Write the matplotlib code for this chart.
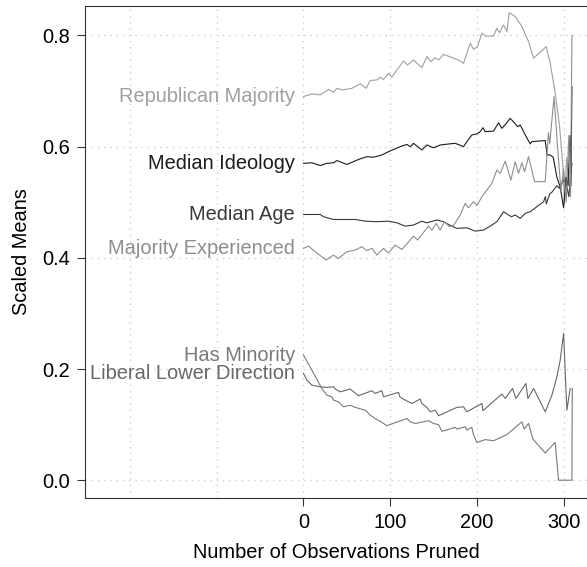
import matplotlib
matplotlib.use('Agg')
import matplotlib.pyplot as plt

plt.rcParams['font.family'] = ['Liberation Sans', 'DejaVu Sans']

# values (x = observations pruned, y = scaled mean)
rep_x = [0, 9.7, 19.3, 28.9, 34.7, 38.5, 44.3, 55.8, 65.4, 72.3, 77, 84.6, 88.5, 92.3, 98.1,
         101.9, 107.7, 115.4, 120, 126.9, 136.5, 142.3, 146.9, 151.9, 155.8, 161.5, 168.5,
         173.1, 178.5, 184.6, 192.3, 196.2, 200.8, 205.8, 209.6, 219.2, 223.1, 226.1, 230.8,
         234.6, 237.3, 244.2, 251.9, 259.6, 265.4, 280, 284.6, 290.4, 295.4, 299.2, 301,
         303.5, 306, 309]
rep_y = [.690, .695, .693, .703, .698, .705, .702, .705, .713, .705, .719, .720, .725, .721, .732,
         .725, .738, .754, .747, .756, .742, .762, .753, .760, .756, .766, .762,
         .759, .756, .750, .786, .775, .780, .804, .799, .799, .813, .805, .819,
         .807, .841, .834, .816, .789, .759, .780, .750, .696, .636, .564, .500,
         .580, .530, .560]

ideo_x = [0, 9.7, 19.3, 27, 34.7, 38.5, 50, 63.5, 73.1, 80.8, 90.4, 98.1, 111.5, 119.2, 123.1,
          126.9, 136.5, 142.3, 150, 157.7, 168.5, 175, 184.6, 188.5, 194.2, 200, 203.8, 206.9,
          209.6, 219.2, 225, 228.8, 233, 238.4, 242, 246.9, 250, 255.8, 261.5, 263.4, 278.8,
          281, 284.6, 288, 292.3, 296, 300, 303, 305, 307.6, 308.5, 309.6]
ideo_y = [.570, .571, .566, .570, .571, .575, .568, .577, .582, .581, .585, .591, .600, .604, .600,
          .606, .594, .603, .598, .603, .605, .606, .600, .609, .621, .623, .627, .634,
          .627, .628, .643, .633, .640, .651, .645, .636, .639, .621, .605, .609, .611,
          .585, .585, .581, .545, .528, .490, .545, .530, .620, .530, .708]

age_x = [0, 19.3, 23, 34.7, 46.2, 59.6, 71.2, 84.6, 98.1, 107.7, 117.3, 126.9, 136.5, 142,
         153.8, 161.5, 168.5, 176.9, 188.5, 198.1, 207.7, 215.4, 223.1, 230.8, 236.5, 240,
         244.2, 250, 255.8, 261.5, 269.2, 276.9, 279, 280, 284, 286.5, 292.3, 295, 300, 303,
         306, 309.6]
age_y = [.478, .478, .474, .469, .469, .469, .466, .465, .466, .463, .457, .459, .466, .463,
         .468, .465, .459, .453, .454, .448, .450, .457, .465, .483, .477, .474,
         .477, .471, .480, .483, .492, .501, .510, .497, .515, .518, .530, .525, .540, .535,
         .510, .570]

exper_x = [0, 5.8, 13.5, 26.2, 34.7, 40.4, 50, 59.6, 67.3, 73.1, 78.9, 84.6, 92.3, 98.1, 105.8,
           113.5, 126.9, 131.5, 144.2, 148.1, 153.1, 157.7, 162.3, 168.5, 173, 180.8, 186.5,
           190, 196.2, 200, 205.8, 211.5, 217.3, 223.1, 227, 232.7, 239.2, 244.2, 248, 251.9,
           255, 259.6, 266.5, 278.8, 282.5, 284, 289, 293, 297, 300, 303, 306, 308, 309.6]
exper_y = [.417, .421, .411, .396, .405, .399, .411, .414, .420, .413, .417, .405, .417, .409, .423,
           .415, .439, .432, .457, .450, .462, .450, .465, .456, .458, .477, .498,
           .490, .501, .494, .510, .522, .534, .558, .552, .574, .540, .573, .552, .571,
           .555, .582, .537, .537, .625, .605, .690, .600, .520, .560, .500, .620, .510, .800]

minor_x = [0, 9.7, 21.2, 27, 32.7, 34.7, 40.4, 46.2, 53.9, 59.6, 71.2, 77, 84.6, 88.5, 96.2,
           119.2, 123.1, 128.9, 144.2, 150, 155.8, 159.6, 175, 176.9, 186.5, 188.5, 194.2,
           196.1, 200, 209.6, 219.2, 234.6, 251.9, 254.6, 259.6, 264.6, 278.8, 290.3, 294.2,
           309.6, 310]
minor_y = [.225, .198, .165, .153, .150, .144, .141, .132, .135, .131, .126, .117, .109, .106, .098,
           .111, .105, .102, .107, .102, .100, .088, .095, .092, .096, .090, .095,
           .082, .068, .073, .071, .082, .105, .092, .102, .074, .049, .068, .000,
           .000, .165]

lib_x = [0, 3.9, 9.7, 19.3, 27, 34.7, 36.6, 42.3, 53.9, 63.5, 78.9, 82.7, 90.4, 92.3, 109.6,
         111.5, 121.2, 125, 134.6, 136.5, 142.3, 146.2, 151.9, 155.8, 176.9, 184.6, 188.5,
         205.8, 206.9, 228.8, 232.7, 241.1, 245, 256.5, 258.8, 265.4, 278.8, 286.5, 292.3,
         296.1, 300, 303.8, 307.6]
lib_y = [.192, .180, .171, .168, .167, .168, .164, .159, .164, .152, .161, .156, .161, .150, .158,
         .149, .141, .138, .146, .138, .131, .123, .126, .116, .131, .132, .123,
         .138, .125, .155, .147, .165, .147, .174, .147, .165, .123, .153, .186,
         .216, .264, .126, .165]

series = [
    ('Republican Majority', rep_x, rep_y, '#a0a0a0'),
    ('Median Ideology', ideo_x, ideo_y, '#1c1c1c'),
    ('Median Age', age_x, age_y, '#383838'),
    ('Majority Experienced', exper_x, exper_y, '#8e8e8e'),
    ('Has Minority', minor_x, minor_y, '#7a7a7a'),
    ('Liberal Lower Direction', lib_x, lib_y, '#686868'),
]

fig = plt.figure(figsize=(5.87, 5.67), dpi=100)
ax = fig.add_axes([0.1448, 0.1217, 0.8552, 0.8677])

for name, xs, ys, col in series:
    ax.plot(xs, ys, '-', color=col, lw=0.8)
    ax.text(-10, ys[0], name, color=col, fontsize=14.4, ha='right', va='center')

ax.set_xlim(-252, 327)
ax.set_ylim(-0.032, 0.853)
ax.set_xticks([0, 100, 200, 300])
ax.set_xticks([-200, -100], minor=True)
ax.set_yticks([0.0, 0.2, 0.4, 0.6, 0.8])
ax.set_yticklabels(['0.0', '0.2', '0.4', '0.6', '0.8'])
ax.tick_params(axis='both', which='major', direction='out', length=6, width=0.8,
               color='#333333', labelsize=14.4, pad=5)
ax.tick_params(axis='x', which='minor', length=0)
ax.grid(True, which='both', color='#c8c8c8', linestyle=(0, (1, 4)), lw=0.9)

for s in ['left', 'bottom', 'top']:
    ax.spines[s].set_color('#333333')
    ax.spines[s].set_linewidth(0.8)
ax.spines['right'].set_visible(False)

ax.set_xlabel('Number of Observations Pruned', fontsize=14.4, labelpad=8)
ax.set_ylabel('Scaled Means', fontsize=14.4, labelpad=8)

fig.savefig('out.png', dpi=100)
